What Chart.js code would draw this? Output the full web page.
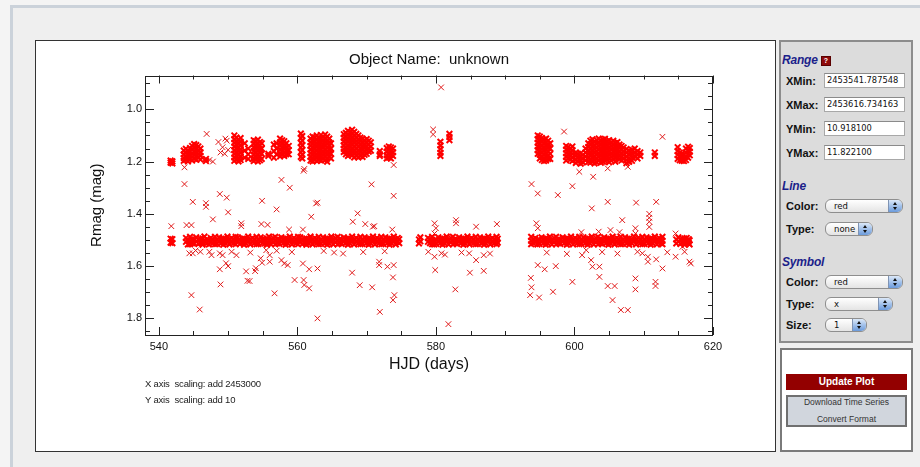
<!DOCTYPE html>
<html>
<head>
<meta charset="utf-8">
<script src="https://cdn.jsdelivr.net/npm/chart.js@4.4.1/dist/chart.umd.min.js"></script>
<style>
  body { margin: 0; width: 920px; height: 467px; background: #f4f4f4; position: relative; overflow: hidden;
         font-family: "Liberation Sans", Arial, sans-serif; }
  #frame { position: absolute; left: 10px; top: 5px; width: 907px; height: 459px; background: #efefef;
           border-left: 3px solid #cbd2da; border-top: 3px solid #cbd2da; }
  #plotBox { position: absolute; left: 35px; top: 40px; width: 739px; height: 410px; background: #fff;
             border: 1px solid #333; }
  #plotBox canvas { position: absolute; left: 0; top: 0; }
  .note { position: absolute; left: 109px; font-size: 9.5px; color: #222; line-height: 12px; letter-spacing: -0.2px; white-space: pre; }
  #panel { position: absolute; left: 779px; top: 40px; width: 130px; height: 299px; background: #dcdcdc;
           border: 2px solid #8c8c8c; }
  #actions { position: absolute; left: 780px; top: 348px; width: 129px; height: 100px; background: #fff;
             border: 2px solid #7a7a7a; }
  .head { position: absolute; left: 782px; font-size: 12px; font-weight: bold; font-style: italic; color: #1b1f8a;
          line-height: 16px; letter-spacing: -0.2px; }
  .lbl { position: absolute; left: 786px; font-size: 11px; font-weight: bold; color: #111; line-height: 14px; }
  .inp { position: absolute; left: 824px; width: 77px; height: 13px; background: #fff; border: 1px solid #a8a8a8;
         border-top-color: #8a8a8a; font-family: "DejaVu Sans", sans-serif; font-size: 8.3px; line-height: 13px;
         padding-left: 2px; color: #111; white-space: nowrap; overflow: hidden; }
  .sel { position: absolute; left: 825px; height: 12px; border: 1px solid #8e8e8e; border-radius: 6px;
         background: linear-gradient(#ffffff, #e4e4e4); font-family: "DejaVu Sans", sans-serif; font-size: 8.5px;
         line-height: 12px; padding-left: 8px; box-sizing: content-box; color: #111; overflow: hidden; }
  .sel i { position: absolute; right: 0; top: 0; width: 13px; height: 12px; border-left: 1px solid #7f93b3;
           background: linear-gradient(#dbe8f8, #6b9bdc); }
  .sel i::before, .sel i::after { content: ""; position: absolute; left: 4px; border-left: 2.5px solid transparent;
           border-right: 2.5px solid transparent; }
  .sel i::before { top: 2px; border-bottom: 3px solid #111; }
  .sel i::after { top: 7px; border-top: 3px solid #111; }
  #help { position: absolute; left: 821px; top: 56px; width: 8px; height: 8px; background: #8e0a0a; border: 1px solid #5a0000;
          color: #fff; font-size: 7px; font-weight: bold; line-height: 8px; text-align: center; }
  #update { position: absolute; left: 786px; top: 374px; width: 121px; height: 16px; background: #930000; color: #fff;
            font-size: 10px; font-weight: bold; line-height: 16px; text-align: center; }
  #tools { position: absolute; left: 786px; top: 395px; width: 117px; height: 28px; background: #d1d6dd; border: 2px solid #707070;
           font-size: 8.5px; color: #333; text-align: center; line-height: 16px; }
  #tools div { position: absolute; left: 0; width: 117px; }
</style>
</head>
<body>
<div id="frame"></div>

<div id="plotBox">
  <canvas id="lightCurve" width="739" height="410"></canvas>
  <div class="note" style="top:337px">X axis  scaling: add 2453000</div>
  <div class="note" style="top:353px">Y axis  scaling: add 10</div>
</div>

<div id="panel"></div>
<div class="head" style="top:52px">Range</div>
<div id="help">?</div>
<div class="lbl" style="top:74px">XMin:</div>
<div class="inp" style="top:73px">2453541.787548</div>
<div class="lbl" style="top:98px">XMax:</div>
<div class="inp" style="top:97px">2453616.734163</div>
<div class="lbl" style="top:122px">YMin:</div>
<div class="inp" style="top:121px">10.918100</div>
<div class="lbl" style="top:146px">YMax:</div>
<div class="inp" style="top:145px">11.822100</div>

<div class="head" style="top:178px">Line</div>
<div class="lbl" style="top:199px">Color:</div>
<div class="sel" style="top:199px;width:68px">red<i></i></div>
<div class="lbl" style="top:222px">Type:</div>
<div class="sel" style="top:222px;width:38px">none<i></i></div>

<div class="head" style="top:254px">Symbol</div>
<div class="lbl" style="top:275px">Color:</div>
<div class="sel" style="top:275px;width:68px">red<i></i></div>
<div class="lbl" style="top:297px">Type:</div>
<div class="sel" style="top:297px;width:58px">x<i></i></div>
<div class="lbl" style="top:318px">Size:</div>
<div class="sel" style="top:318px;width:32px">1<i></i></div>

<div id="actions"></div>
<div id="update">Update Plot</div>
<div id="tools"><div style="top:-3px">Download Time Series</div><div style="top:14px">Convert Format</div></div>

<script>
// HJD - 2453000 and Rmag - 10, one entry per night block: [hjd, [mags...]]
// faint (quiescent) level around 1.50
const quietNights = [
  [541.70, [1.495, 1.510]], [541.95, [1.497, 1.512]],
  [543.92, [1.492, 1.507]], [544.19, [1.501, 1.517]], [544.51, [1.488, 1.503, 1.516]], [544.80, [1.497, 1.512]],
  [545.12, [1.498, 1.513]], [545.39, [1.490, 1.505]], [545.71, [1.499, 1.515]], [546.00, [1.495, 1.510]],
  [546.31, [1.494, 1.509, 1.518]], [546.58, [1.487, 1.502]], [546.90, [1.498, 1.513]], [547.22, [1.501, 1.517]],
  [547.49, [1.492, 1.507]], [547.80, [1.497, 1.512]], [548.11, [1.488, 1.503, 1.516]], [548.40, [1.499, 1.515]],
  [548.69, [1.490, 1.505]], [549.01, [1.495, 1.510]], [549.30, [1.494, 1.509, 1.518]], [549.62, [1.498, 1.513]],
  [549.90, [1.487, 1.502]], [550.19, [1.501, 1.517]], [550.51, [1.492, 1.507]], [550.80, [1.497, 1.512]],
  [551.09, [1.488, 1.503, 1.516]], [551.41, [1.490, 1.505]], [551.70, [1.499, 1.515]], [552.02, [1.495, 1.510]],
  [552.30, [1.494, 1.509, 1.518]], [552.61, [1.498, 1.513]], [552.89, [1.487, 1.502]], [553.20, [1.501, 1.517]],
  [553.52, [1.492, 1.507]], [553.80, [1.497, 1.512]], [554.11, [1.488, 1.503, 1.516]], [554.39, [1.499, 1.515]],
  [554.70, [1.490, 1.505]], [555.01, [1.495, 1.510]], [555.30, [1.498, 1.513]], [555.61, [1.494, 1.509, 1.518]],
  [555.90, [1.487, 1.502]], [556.21, [1.501, 1.517]], [556.49, [1.492, 1.507]], [556.80, [1.488, 1.503, 1.516]],
  [557.11, [1.497, 1.512]], [557.40, [1.499, 1.515]], [557.69, [1.490, 1.505]], [558.01, [1.495, 1.510]],
  [558.30, [1.494, 1.509, 1.518]], [558.62, [1.498, 1.513]], [558.90, [1.487, 1.502]], [559.21, [1.501, 1.517]],
  [559.49, [1.492, 1.507]], [559.80, [1.497, 1.512]], [560.10, [1.488, 1.503, 1.516]], [560.41, [1.490, 1.505]],
  [560.70, [1.499, 1.515]], [561.02, [1.495, 1.510]], [561.30, [1.494, 1.509, 1.518]], [561.61, [1.498, 1.513]],
  [561.89, [1.487, 1.502]], [562.20, [1.501, 1.517]], [562.51, [1.492, 1.507]], [562.80, [1.497, 1.512]],
  [563.09, [1.488, 1.503, 1.516]], [563.41, [1.499, 1.515]], [563.70, [1.490, 1.505]], [564.01, [1.495, 1.510]],
  [564.30, [1.494, 1.509, 1.518]], [564.61, [1.498, 1.513]], [564.90, [1.487, 1.502]], [565.19, [1.501, 1.517]],
  [565.50, [1.492, 1.507]], [565.81, [1.488, 1.503, 1.516]], [566.10, [1.497, 1.512]], [566.39, [1.499, 1.515]],
  [566.71, [1.490, 1.505]], [567.00, [1.495, 1.510]], [567.30, [1.494, 1.509, 1.518]], [567.61, [1.498, 1.513]],
  [567.90, [1.487, 1.502]], [568.19, [1.501, 1.517]], [568.50, [1.492, 1.507]], [568.81, [1.497, 1.512]],
  [569.10, [1.488, 1.503, 1.516]], [569.40, [1.499, 1.515]], [569.71, [1.490, 1.505]], [570.00, [1.495, 1.510]],
  [570.29, [1.494, 1.509, 1.518]], [570.60, [1.498, 1.513]], [570.91, [1.487, 1.502]], [571.20, [1.501, 1.517]],
  [571.49, [1.492, 1.507]], [571.80, [1.497, 1.512]], [572.11, [1.488, 1.503, 1.516]], [572.40, [1.499, 1.515]],
  [572.69, [1.490, 1.505]], [573.01, [1.495, 1.510]], [573.30, [1.494, 1.509, 1.518]], [573.60, [1.498, 1.513]],
  [573.91, [1.487, 1.502]], [574.20, [1.501, 1.517]], [574.49, [1.492, 1.507]], [574.70, [1.497, 1.512]],
  [577.55, [1.498, 1.513]], [577.75, [1.490, 1.505]],
  [578.85, [1.492, 1.507]], [579.15, [1.497, 1.512]], [579.45, [1.488, 1.503, 1.516]], [579.75, [1.501, 1.517]],
  [580.05, [1.499, 1.515]], [580.35, [1.490, 1.505]], [580.65, [1.495, 1.510]], [580.95, [1.494, 1.509, 1.518]],
  [581.25, [1.498, 1.513]], [581.55, [1.487, 1.502]], [581.85, [1.501, 1.517]], [582.15, [1.492, 1.507]],
  [582.45, [1.488, 1.503, 1.516]], [582.75, [1.497, 1.512]], [583.05, [1.499, 1.515]], [583.35, [1.490, 1.505]],
  [583.65, [1.495, 1.510]], [583.95, [1.494, 1.509, 1.518]], [584.25, [1.498, 1.513]], [584.55, [1.487, 1.502]],
  [584.85, [1.501, 1.517]], [585.15, [1.492, 1.507]], [585.45, [1.497, 1.512]], [585.75, [1.488, 1.503, 1.516]],
  [586.05, [1.499, 1.515]], [586.35, [1.490, 1.505]], [586.65, [1.495, 1.510]], [586.95, [1.494, 1.509, 1.518]],
  [587.25, [1.498, 1.513]], [587.55, [1.487, 1.502]], [587.85, [1.501, 1.517]], [588.15, [1.492, 1.507]],
  [588.45, [1.497, 1.512]], [588.75, [1.488, 1.503, 1.516]], [588.92, [1.495, 1.510]],
  [593.75, [1.488, 1.503, 1.516]], [594.05, [1.497, 1.512]], [594.35, [1.492, 1.507]], [594.65, [1.501, 1.517]],
  [594.95, [1.499, 1.515]], [595.25, [1.490, 1.505]], [595.55, [1.495, 1.510]], [595.85, [1.494, 1.509, 1.518]],
  [596.15, [1.498, 1.513]], [596.45, [1.487, 1.502]], [596.75, [1.501, 1.517]], [597.05, [1.492, 1.507]],
  [597.35, [1.488, 1.503, 1.516]], [597.65, [1.497, 1.512]], [597.95, [1.499, 1.515]], [598.30, [1.490, 1.505]],
  [598.60, [1.495, 1.510]], [598.90, [1.494, 1.509, 1.518]], [599.20, [1.498, 1.513]], [599.50, [1.487, 1.502]],
  [599.80, [1.501, 1.517]], [600.10, [1.492, 1.507]], [600.40, [1.497, 1.512]], [600.70, [1.488, 1.503, 1.516]],
  [601.00, [1.499, 1.515]], [601.30, [1.490, 1.505]], [601.60, [1.495, 1.510]], [601.90, [1.494, 1.509, 1.518]],
  [602.20, [1.498, 1.513]], [602.50, [1.487, 1.502]], [602.80, [1.501, 1.517]], [603.10, [1.492, 1.507]],
  [603.40, [1.488, 1.503, 1.516]], [603.70, [1.497, 1.512]], [604.00, [1.499, 1.515]], [604.30, [1.490, 1.505]],
  [604.60, [1.495, 1.510]], [604.90, [1.494, 1.509, 1.518]], [605.20, [1.498, 1.513]], [605.50, [1.487, 1.502]],
  [605.80, [1.501, 1.517]], [606.10, [1.492, 1.507]], [606.40, [1.497, 1.512]], [606.70, [1.488, 1.503, 1.516]],
  [607.00, [1.499, 1.515]], [607.30, [1.490, 1.505]], [607.60, [1.495, 1.510]], [607.90, [1.494, 1.509, 1.518]],
  [608.30, [1.498, 1.513]], [608.60, [1.487, 1.502]], [608.90, [1.501, 1.517]], [609.20, [1.492, 1.507]],
  [609.50, [1.497, 1.512]], [609.80, [1.488, 1.503, 1.516]], [610.10, [1.499, 1.515]], [610.40, [1.490, 1.505]],
  [610.70, [1.495, 1.510]], [611.00, [1.494, 1.509, 1.518]], [611.30, [1.498, 1.513]], [611.60, [1.487, 1.502]],
  [611.90, [1.501, 1.517]], [612.20, [1.492, 1.507]], [612.50, [1.497, 1.512]], [612.70, [1.488, 1.503, 1.516]],
  [614.70, [1.498, 1.513]], [615.00, [1.490, 1.505]], [615.30, [1.499, 1.515]], [615.60, [1.495, 1.510]],
  [615.90, [1.494, 1.509, 1.518]], [616.20, [1.492, 1.507]], [616.50, [1.497, 1.512]], [616.62, [1.501, 1.517]]
];

// bright level, roughly 1.08 - 1.21
const brightNights = [
  [541.70, [1.196, 1.204]], [541.95, [1.199, 1.207]],
  [543.60, [1.158, 1.172, 1.186, 1.197]], [543.90, [1.151, 1.165, 1.179, 1.193]],
  [544.20, [1.160, 1.174, 1.188, 1.199]], [544.50, [1.148, 1.162, 1.176, 1.190]],
  [544.80, [1.140, 1.154, 1.168, 1.182, 1.196]], [545.10, [1.133, 1.147, 1.161, 1.175, 1.189]],
  [545.40, [1.137, 1.151, 1.165, 1.179, 1.193]], [545.70, [1.142, 1.156, 1.170, 1.184]],
  [546.00, [1.150, 1.164, 1.178, 1.192]], [546.80, [1.190, 1.198]],
  [550.90, [1.100, 1.114, 1.128, 1.142, 1.156, 1.170, 1.184, 1.197]],
  [551.20, [1.108, 1.122, 1.136, 1.150, 1.164, 1.178, 1.192]],
  [551.50, [1.118, 1.132, 1.146, 1.160, 1.174, 1.188, 1.199]],
  [551.80, [1.110, 1.124, 1.138, 1.152, 1.166, 1.180, 1.194]],
  [552.40, [1.130, 1.158, 1.185]], [552.90, [1.150, 1.172, 1.190]],
  [553.70, [1.118, 1.132, 1.146, 1.160, 1.174, 1.188, 1.198]],
  [554.00, [1.122, 1.136, 1.150, 1.164, 1.178, 1.192]],
  [554.30, [1.116, 1.130, 1.144, 1.158, 1.172, 1.186, 1.199]],
  [554.60, [1.125, 1.139, 1.153, 1.167, 1.181, 1.195]],
  [554.85, [1.130, 1.150, 1.170, 1.190]], [555.80, [1.170, 1.178]],
  [556.60, [1.135, 1.160, 1.185]], [557.00, [1.130, 1.150, 1.172]],
  [557.50, [1.112, 1.126, 1.140, 1.154, 1.168, 1.180]],
  [557.80, [1.118, 1.132, 1.146, 1.160, 1.174]],
  [558.10, [1.122, 1.136, 1.150, 1.164, 1.178]],
  [558.40, [1.130, 1.144, 1.158, 1.172]], [558.75, [1.140, 1.156, 1.172]],
  [560.50, [1.093, 1.110, 1.128, 1.146, 1.164, 1.182]],
  [560.70, [1.102, 1.120, 1.138, 1.156, 1.174, 1.188]],
  [561.90, [1.112, 1.126, 1.140, 1.154, 1.168, 1.182, 1.196]],
  [562.20, [1.104, 1.118, 1.132, 1.146, 1.160, 1.174, 1.188, 1.199]],
  [562.50, [1.108, 1.122, 1.136, 1.150, 1.164, 1.178, 1.192]],
  [562.80, [1.100, 1.114, 1.128, 1.142, 1.156, 1.170, 1.184, 1.198]],
  [563.10, [1.110, 1.124, 1.138, 1.152, 1.166, 1.180, 1.194]],
  [563.40, [1.098, 1.112, 1.126, 1.140, 1.154, 1.168, 1.182, 1.196]],
  [563.70, [1.106, 1.120, 1.134, 1.148, 1.162, 1.176, 1.190]],
  [564.00, [1.096, 1.110, 1.124, 1.138, 1.152, 1.166, 1.180, 1.194]],
  [564.30, [1.104, 1.118, 1.132, 1.146, 1.160, 1.174, 1.188, 1.200]],
  [564.60, [1.112, 1.126, 1.140, 1.154, 1.168, 1.182]],
  [564.85, [1.130, 1.150, 1.170, 1.188]],
  [566.70, [1.095, 1.109, 1.123, 1.137, 1.151, 1.163]],
  [567.00, [1.090, 1.104, 1.118, 1.132, 1.146, 1.160, 1.172]],
  [567.30, [1.082, 1.096, 1.110, 1.124, 1.138, 1.152, 1.166, 1.178]],
  [567.60, [1.088, 1.102, 1.116, 1.130, 1.144, 1.158, 1.172]],
  [567.90, [1.078, 1.092, 1.106, 1.120, 1.134, 1.148, 1.162, 1.176]],
  [568.20, [1.086, 1.100, 1.114, 1.128, 1.142, 1.156, 1.170, 1.184]],
  [568.50, [1.094, 1.108, 1.122, 1.136, 1.150, 1.164, 1.178]],
  [568.80, [1.100, 1.114, 1.128, 1.142, 1.156, 1.170, 1.184]],
  [569.10, [1.108, 1.122, 1.136, 1.150, 1.164, 1.178]],
  [569.40, [1.112, 1.126, 1.140, 1.154, 1.168, 1.182]],
  [569.70, [1.118, 1.132, 1.146, 1.160, 1.174]],
  [570.00, [1.114, 1.128, 1.142, 1.156, 1.170]],
  [570.30, [1.120, 1.134, 1.148, 1.162]], [570.60, [1.126, 1.142, 1.158]],
  [571.90, [1.160, 1.172, 1.178]],
  [572.90, [1.148, 1.162, 1.176, 1.188]], [573.20, [1.142, 1.156, 1.170, 1.184]],
  [573.50, [1.146, 1.160, 1.174, 1.188]], [573.80, [1.150, 1.164, 1.178]],
  [580.65, [1.124, 1.138, 1.152, 1.166, 1.178]], [581.95, [1.094, 1.106, 1.118]],
  [594.70, [1.100, 1.114, 1.128, 1.142, 1.156, 1.170]],
  [595.00, [1.104, 1.118, 1.132, 1.146, 1.160, 1.174, 1.188]],
  [595.30, [1.110, 1.124, 1.138, 1.152, 1.166, 1.180, 1.194]],
  [595.60, [1.116, 1.130, 1.144, 1.158, 1.172, 1.186, 1.198]],
  [595.90, [1.112, 1.126, 1.140, 1.154, 1.168, 1.182, 1.196]],
  [596.20, [1.120, 1.134, 1.148, 1.162, 1.176, 1.190]],
  [596.50, [1.130, 1.150, 1.170, 1.190]],
  [598.80, [1.140, 1.154, 1.168, 1.182, 1.196]], [599.10, [1.145, 1.159, 1.173, 1.187]],
  [599.40, [1.150, 1.164, 1.178, 1.192]], [599.70, [1.142, 1.156, 1.170, 1.184, 1.198]],
  [600.20, [1.165, 1.178, 1.192, 1.205]], [600.50, [1.170, 1.184, 1.198]],
  [600.90, [1.168, 1.182, 1.196, 1.208]], [601.20, [1.175, 1.189, 1.203]],
  [601.60, [1.150, 1.165, 1.180, 1.195]],
  [602.00, [1.130, 1.144, 1.158, 1.172, 1.186, 1.200]],
  [602.30, [1.120, 1.134, 1.148, 1.162, 1.176, 1.190, 1.204]],
  [602.60, [1.115, 1.129, 1.143, 1.157, 1.171, 1.185, 1.199]],
  [602.90, [1.124, 1.138, 1.152, 1.166, 1.180, 1.194, 1.207]],
  [603.20, [1.118, 1.132, 1.146, 1.160, 1.174, 1.188, 1.202]],
  [603.50, [1.112, 1.126, 1.140, 1.154, 1.168, 1.182, 1.196]],
  [603.80, [1.120, 1.134, 1.148, 1.162, 1.176, 1.190, 1.204]],
  [604.10, [1.116, 1.130, 1.144, 1.158, 1.172, 1.186, 1.200]],
  [604.40, [1.113, 1.127, 1.141, 1.155, 1.169, 1.183, 1.197]],
  [604.70, [1.122, 1.136, 1.150, 1.164, 1.178, 1.192]],
  [605.00, [1.118, 1.132, 1.146, 1.160, 1.174, 1.188, 1.202]],
  [605.30, [1.126, 1.140, 1.154, 1.168, 1.182, 1.196]],
  [605.60, [1.120, 1.134, 1.148, 1.162, 1.176, 1.190]],
  [605.90, [1.130, 1.144, 1.158, 1.172, 1.186, 1.200]],
  [606.20, [1.125, 1.139, 1.153, 1.167, 1.181]],
  [606.50, [1.135, 1.149, 1.163, 1.177, 1.191]],
  [606.80, [1.140, 1.154, 1.168, 1.182, 1.196]],
  [607.10, [1.146, 1.160, 1.174, 1.188]],
  [607.50, [1.152, 1.166, 1.180, 1.194, 1.206]], [607.90, [1.158, 1.172, 1.186, 1.200]],
  [608.30, [1.155, 1.169, 1.183, 1.197]], [608.70, [1.150, 1.165, 1.180]],
  [609.10, [1.160, 1.175, 1.188]], [609.50, [1.165, 1.178]], [611.60, [1.165, 1.178]],
  [614.90, [1.145, 1.160, 1.175, 1.190]], [615.20, [1.165, 1.180, 1.195]],
  [615.50, [1.170, 1.184, 1.197]], [615.80, [1.172, 1.186, 1.198]],
  [616.10, [1.150, 1.165, 1.180, 1.194]], [616.40, [1.143, 1.157, 1.171, 1.185]],
  [616.65, [1.148, 1.162, 1.176]]
];

// isolated measurements away from both levels: [hjd, mag]
const strayPoints = [
  [546.9, 1.094], [547.3, 1.194], [547.8, 1.200], [548.6, 1.125], [548.9, 1.165], [549.2, 1.145],
  [549.5, 1.170], [549.8, 1.120], [550.0, 1.155], [549.6, 1.112], [560.9, 1.235], [543.7, 1.222],
  [579.6, 1.077], [579.6, 1.096], [580.75, 0.916], [598.5, 1.085], [612.7, 1.105], [573.9, 1.213],
  [543.7, 1.286], [544.9, 1.354], [546.8, 1.359], [546.8, 1.373], [548.8, 1.324], [549.8, 1.338],
  [554.9, 1.350], [557.7, 1.270], [558.9, 1.300], [562.7, 1.360], [570.7, 1.287], [573.9, 1.331],
  [561.0, 1.228], [547.8, 1.421], [550.0, 1.394], [557.0, 1.383], [562.0, 1.411], [562.9, 1.357],
  [541.8, 1.447], [544.0, 1.443], [544.7, 1.443], [551.9, 1.436], [551.9, 1.447], [554.8, 1.439],
  [555.7, 1.442], [558.8, 1.460], [560.8, 1.460], [568.0, 1.430], [568.7, 1.398], [569.8, 1.439],
  [571.1, 1.447], [573.7, 1.460], [570.9, 1.449],
  [579.8, 1.436], [580.0, 1.455], [579.8, 1.475], [582.9, 1.424], [582.9, 1.436], [585.8, 1.449],
  [588.8, 1.439],
  [593.8, 1.286], [594.7, 1.322], [597.6, 1.328], [594.5, 1.436], [594.7, 1.455], [599.7, 1.294],
  [600.7, 1.239], [602.7, 1.258], [604.8, 1.226], [607.7, 1.220], [602.5, 1.379], [604.8, 1.354],
  [608.9, 1.357], [611.8, 1.354], [606.9, 1.424], [610.8, 1.400], [610.8, 1.415], [610.8, 1.430],
  [610.8, 1.450], [608.8, 1.455], [608.8, 1.475], [614.6, 1.475], [601.0, 1.470], [603.5, 1.468],
  [605.2, 1.462], [606.5, 1.470],
  [544.4, 1.551], [544.9, 1.551], [546.0, 1.545], [547.3, 1.545], [547.6, 1.558], [548.8, 1.551],
  [549.2, 1.558], [548.8, 1.612], [548.9, 1.670], [549.7, 1.589], [550.0, 1.600], [544.7, 1.711],
  [545.9, 1.766], [551.2, 1.558], [552.6, 1.620], [552.8, 1.656], [553.1, 1.657], [554.0, 1.608],
  [553.9, 1.619], [554.7, 1.570], [554.9, 1.587], [555.5, 1.539], [556.0, 1.558], [556.0, 1.583],
  [556.7, 1.704], [557.7, 1.577], [558.1, 1.590], [558.6, 1.596], [559.6, 1.653], [560.8, 1.590],
  [560.9, 1.653], [561.0, 1.672], [561.7, 1.612], [561.7, 1.685], [562.9, 1.609], [562.9, 1.800],
  [567.9, 1.625], [569.0, 1.673], [570.8, 1.681], [571.8, 1.596], [571.8, 1.583], [573.0, 1.602],
  [571.9, 1.775], [573.9, 1.596], [573.8, 1.643], [574.0, 1.711], [573.8, 1.730],
  [545.3, 1.540], [550.5, 1.545], [553.2, 1.548], [557.0, 1.541], [559.2, 1.546], [563.8, 1.542],
  [565.3, 1.548], [566.6, 1.552], [569.5, 1.546], [572.6, 1.543],
  [579.8, 1.564], [579.9, 1.615], [580.8, 1.551], [582.8, 1.689], [584.8, 1.551], [585.8, 1.577],
  [586.9, 1.558], [586.9, 1.618], [584.9, 1.625], [581.8, 1.822], [578.9, 1.545], [581.3, 1.556],
  [583.7, 1.548], [587.8, 1.552],
  [594.7, 1.596], [595.7, 1.612], [597.3, 1.600], [593.7, 1.645], [593.8, 1.681], [593.6, 1.711],
  [594.9, 1.720], [596.9, 1.698], [605.5, 1.730], [606.7, 1.768], [607.7, 1.768], [604.8, 1.676],
  [605.8, 1.676], [603.6, 1.641], [602.6, 1.602], [603.6, 1.602], [602.4, 1.577], [601.1, 1.558],
  [601.7, 1.539], [599.7, 1.660], [611.7, 1.660], [611.7, 1.676], [608.8, 1.647], [608.8, 1.689],
  [615.6, 1.526], [615.9, 1.545], [616.6, 1.583], [616.8, 1.590], [614.6, 1.564], [612.7, 1.609],
  [610.6, 1.564], [610.6, 1.583], [611.8, 1.574], [609.1, 1.545], [609.8, 1.551],
  [596.0, 1.548], [598.9, 1.553], [604.0, 1.546], [606.2, 1.552], [613.4, 1.547]
];

const xTicks = [540, 560, 580, 600, 620];
const xMinorTicks = [540, 545, 550, 555, 560, 565, 570, 575, 580, 585, 590, 595, 600, 605, 610, 615, 620];
const yTicks = [1.0, 1.2, 1.4, 1.6, 1.8];
const yMinorTicks = [0.9, 0.95, 1.0, 1.05, 1.1, 1.15, 1.2, 1.25, 1.3, 1.35, 1.4, 1.45, 1.5, 1.55, 1.6, 1.65, 1.7, 1.75, 1.8, 1.85];
const chartTitle = 'Object Name:  unknown';

const toPoints = nights => nights.flatMap(([x, mags]) => mags.map(y => ({ x: x, y: y })));

// crowded nights use a heavier stroke so overlapping crosses merge into a solid run
const denseStyle = {
  pointStyle: 'crossRot',
  pointRadius: 4,
  pointBorderWidth: 2,
  borderColor: '#ff0000',
  backgroundColor: '#ff0000'
};
const strayStyle = {
  pointStyle: 'crossRot',
  pointRadius: 4,
  pointBorderWidth: 1,
  borderColor: '#e01818',
  backgroundColor: '#e01818'
};

// boxed frame, inward ticks on all four sides and the title over the plot area
const boxTicks = {
  id: 'boxTicks',
  afterDraw(chart) {
    const { ctx, chartArea: a, scales: { x, y } } = chart;
    ctx.save();
    ctx.strokeStyle = '#222';
    ctx.lineWidth = 1;
    ctx.strokeRect(Math.round(a.left) + 0.5, Math.round(a.top) + 0.5,
                   Math.round(a.width) - 1, Math.round(a.height) - 1);
    ctx.beginPath();
    xMinorTicks.forEach(v => {
      const px = Math.round(x.getPixelForValue(v)) + 0.5;
      const len = xTicks.includes(v) ? 8 : 4;
      ctx.moveTo(px, a.bottom); ctx.lineTo(px, a.bottom - len);
      ctx.moveTo(px, a.top); ctx.lineTo(px, a.top + len);
    });
    yMinorTicks.forEach(v => {
      const py = Math.round(y.getPixelForValue(v)) + 0.5;
      const len = yTicks.some(t => Math.abs(t - v) < 1e-6) ? 9 : 5;
      ctx.moveTo(a.left, py); ctx.lineTo(a.left + len, py);
      ctx.moveTo(a.right, py); ctx.lineTo(a.right - len, py);
    });
    ctx.stroke();
    ctx.fillStyle = '#111';
    ctx.font = '15px "Liberation Sans", Arial, sans-serif';
    ctx.textAlign = 'center';
    ctx.textBaseline = 'middle';
    ctx.fillText(chartTitle, (a.left + a.right) / 2, 19);
    ctx.restore();
  }
};

new Chart(document.getElementById('lightCurve'), {
  type: 'scatter',
  data: {
    datasets: [
      { label: 'quiet', data: toPoints(quietNights), ...denseStyle },
      { label: 'bright', data: toPoints(brightNights), ...denseStyle },
      { label: 'stray', data: strayPoints.map(([x, y]) => ({ x: x, y: y })), ...strayStyle }
    ]
  },
  options: {
    responsive: false,
    animation: false,
    events: [],
    layout: { padding: { top: 34.5, right: 62, left: 0, bottom: 0 } },
    plugins: { legend: { display: false }, title: { display: false }, tooltip: { enabled: false } },
    scales: {
      x: {
        type: 'linear',
        min: 538,
        max: 620,
        afterBuildTicks: s => { s.ticks = xTicks.map(v => ({ value: v })); },
        afterFit: s => { s.height = 116; },
        grid: { display: false, drawTicks: false },
        border: { display: false },
        ticks: { autoSkip: false, maxRotation: 0, padding: 5, color: '#111',
                 font: { family: '"Liberation Sans", Arial, sans-serif', size: 11 },
                 callback: v => String(v) },
        title: { display: true, text: 'HJD (days)', color: '#111',
                 font: { family: '"Liberation Sans", Arial, sans-serif', size: 16 },
                 padding: { top: 0, bottom: 77 } }
      },
      y: {
        type: 'linear',
        reverse: true,
        min: 0.8705,
        max: 1.8635,
        afterBuildTicks: s => { s.ticks = yTicks.map(v => ({ value: v })); },
        afterFit: s => { s.width = 109; },
        grid: { display: false, drawTicks: false },
        border: { display: false },
        ticks: { autoSkip: false, padding: 3, color: '#111',
                 font: { family: '"Liberation Sans", Arial, sans-serif', size: 11 },
                 callback: v => Number(v).toFixed(1) },
        title: { display: true, text: 'Rmag (mag)', color: '#111',
                 font: { family: '"Liberation Sans", Arial, sans-serif', size: 15 },
                 padding: { top: 52, bottom: 0 } }
      }
    }
  },
  plugins: [boxTicks]
});
</script>
</body>
</html>
